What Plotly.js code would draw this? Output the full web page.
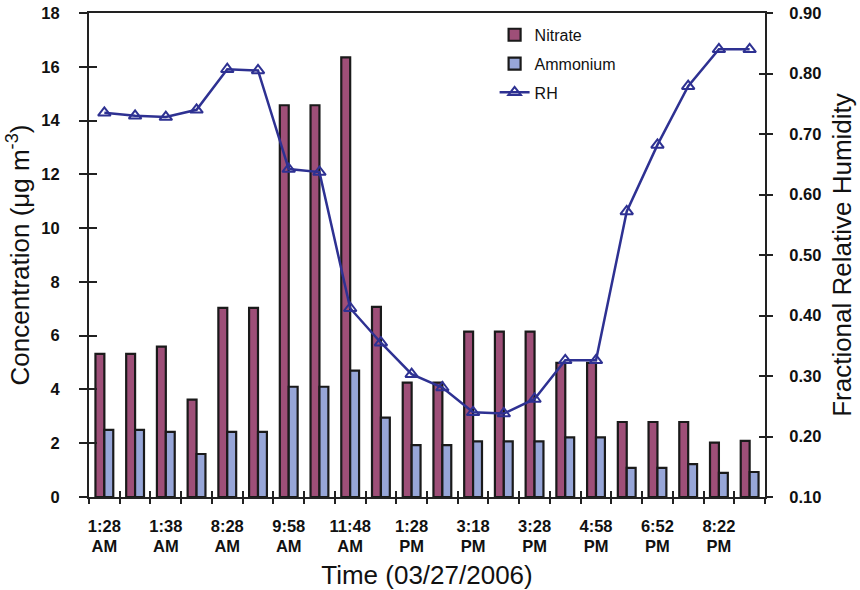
<!DOCTYPE html>
<html>
<head>
<meta charset="utf-8">
<script src="https://cdn.plot.ly/plotly-3.0.1.min.js"></script>
<style>html,body{margin:0;padding:0;background:#fff;}#chart{width:860px;height:590px;}</style>
</head>
<body>
<div id="chart"></div>
<script>
// Sample index (22 samples); labels shown on every other sample
var sampleIndex = [0,1,2,3,4,5,6,7,8,9,10,11,12,13,14,15,16,17,18,19,20,21];
var labelIndex = [0,2,4,6,8,10,12,14,16,18,20];
var labelTimes = ['1:28','1:38','8:28','9:58','11:48','1:28','3:18','3:28','4:58','6:52','8:22'];
var labelAmPm = ['AM','AM','AM','AM','AM','PM','PM','PM','PM','PM','PM'];
var boundaries = [-0.5,0.5,1.5,2.5,3.5,4.5,5.5,6.5,7.5,8.5,9.5,10.5,11.5,12.5,13.5,14.5,15.5,16.5,17.5,18.5,19.5,20.5,21.5];

var nitrate = [5.32,5.32,5.59,3.62,7.03,7.03,14.57,14.57,16.35,7.07,4.25,4.25,6.15,6.15,6.15,4.99,4.99,2.79,2.79,2.79,2.02,2.09];
var ammonium = [2.50,2.50,2.42,1.60,2.42,2.42,4.10,4.10,4.70,2.95,1.93,1.93,2.07,2.07,2.07,2.22,2.22,1.08,1.08,1.22,0.90,0.93];
var rh = [0.735,0.730,0.728,0.740,0.807,0.805,0.642,0.637,0.412,0.355,0.303,0.281,0.240,0.238,0.262,0.326,0.326,0.572,0.682,0.779,0.840,0.840];

var FONT = 'Liberation Sans, Arial, sans-serif';
var AX = '#222222';
var TICKFONT = {family:FONT, size:16.5, weight:'bold', color:'#111'};
var TITLEFONT = {family:FONT, size:26, color:'#111'};

var traces = [
  {type:'bar', name:'Nitrate', x:sampleIndex, y:nitrate, legendgroup:'a',
   marker:{color:'#9E4F78', line:{color:'#1a1a1a', width:2.2}}},
  {type:'bar', name:'Ammonium', x:sampleIndex, y:ammonium, legendgroup:'b',
   marker:{color:'#97A6D8', line:{color:'#1a1a1a', width:2.2}}},
  {type:'scatter', mode:'lines+markers', name:'RH', x:sampleIndex, y:rh, yaxis:'y2', legendgroup:'c',
   line:{color:'#2E3192', width:2.5},
   marker:{symbol:'triangle-up-open', size:11, color:'#2E3192', line:{width:2, color:'#2E3192'}}}
];

var xr = [-0.5, 21.5];
var layout = {
  width:860, height:590,
  margin:{l:89, r:95, t:13, b:93},
  paper_bgcolor:'#fff', plot_bgcolor:'#fff',
  font:{family:FONT, color:'#111'},
  barmode:'group', bargap:0.42, bargroupgap:0,
  showlegend:true,
  legend:{x:0.6, y:0.99, xanchor:'left', yanchor:'top', bgcolor:'rgba(0,0,0,0)',
          font:{family:FONT, size:16, color:'#111'}, traceorder:'grouped', tracegroupgap:5,
          itemwidth:30},
  xaxis:{range:xr, tickmode:'array', tickvals:labelIndex, ticktext:labelTimes,
         ticks:'', showgrid:false, zeroline:false, showline:true, linecolor:AX, linewidth:2, mirror:true,
         tickfont:TICKFONT, ticklabelstandoff:13,
         title:{text:'Time (03/27/2006)', font:TITLEFONT, standoff:41}},
  xaxis2:{overlaying:'x', range:xr, tickmode:'array', tickvals:labelIndex, ticktext:labelAmPm,
          ticks:'', showgrid:false, zeroline:false, showline:false, side:'bottom', anchor:'y',
          tickfont:TICKFONT, ticklabelstandoff:37},
  xaxis3:{overlaying:'x', range:xr, tickmode:'array', tickvals:boundaries, showticklabels:false,
          ticks:'outside', ticklen:6, tickwidth:2, tickcolor:AX, showgrid:false, zeroline:false, anchor:'y'},
  xaxis4:{overlaying:'x', range:xr, tickmode:'array', tickvals:boundaries, showticklabels:false,
          ticks:'inside', ticklen:6, tickwidth:2, tickcolor:AX, showgrid:false, zeroline:false, anchor:'y'},
  yaxis:{range:[0,18], dtick:2, tick0:0, ticks:'outside', ticklen:8, tickwidth:2, tickcolor:AX,
         showgrid:false, zeroline:false, showline:true, linecolor:AX, linewidth:2,
         tickfont:TICKFONT, ticklabelstandoff:16,
         title:{text:'Concentration (μg m<sup style="font-size:22px">-3</sup>)', font:TITLEFONT, standoff:4}},
  yaxis3:{overlaying:'y', range:[0,18], dtick:2, tick0:0, ticks:'inside', ticklen:8, tickwidth:2, tickcolor:AX,
          showticklabels:false, showgrid:false, zeroline:false},
  yaxis2:{overlaying:'y', side:'right', range:[0.1,0.9], dtick:0.1, tick0:0.1, tickformat:'.2f',
          ticks:'outside', ticklen:6, tickwidth:2, tickcolor:AX, showgrid:false, zeroline:false,
          showline:true, linecolor:AX, linewidth:2,
          tickfont:TICKFONT, ticklabelstandoff:13,
          title:{text:'Fractional Relative Humidity', font:TITLEFONT, standoff:12}},
  yaxis4:{overlaying:'y', side:'right', range:[0.1,0.9], dtick:0.1, tick0:0.1,
          ticks:'inside', ticklen:6, tickwidth:2, tickcolor:AX, showticklabels:false, showgrid:false, zeroline:false}
};

// invisible helper traces to activate the overlay axes
traces.push({type:'scatter', x:[0], y:[0], xaxis:'x2', yaxis:'y3', showlegend:false, hoverinfo:'skip', mode:'markers', marker:{opacity:0}});
traces.push({type:'scatter', x:[0], y:[0], xaxis:'x3', yaxis:'y4', showlegend:false, hoverinfo:'skip', mode:'markers', marker:{opacity:0}});
traces.push({type:'scatter', x:[0], y:[0], xaxis:'x4', yaxis:'y', showlegend:false, hoverinfo:'skip', mode:'markers', marker:{opacity:0}});

Plotly.newPlot('chart', traces, layout, {displayModeBar:false, staticPlot:true});
</script>
</body>
</html>
